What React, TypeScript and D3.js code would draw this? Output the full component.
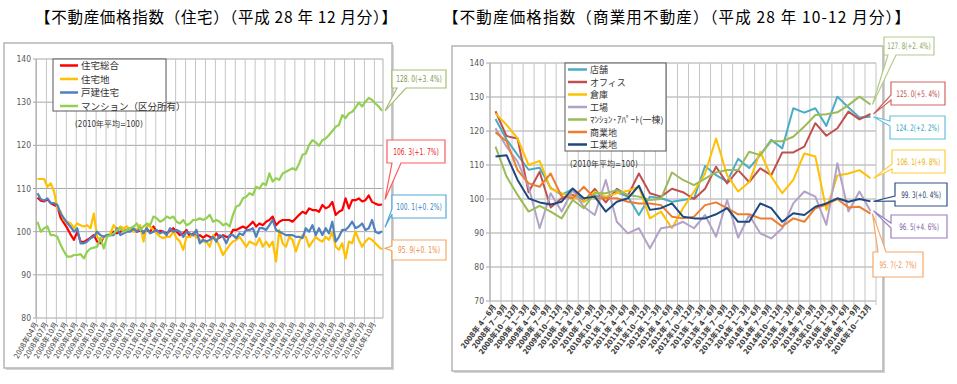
import React from "react";
import * as d3 from "d3";

// 住宅（月次 2008年04月〜2016年12月）
const monthTicks = [
  "2008年04月", "2008年07月", "2008年10月",
  "2009年01月", "2009年04月", "2009年07月", "2009年10月",
  "2010年01月", "2010年04月", "2010年07月", "2010年10月",
  "2011年01月", "2011年04月", "2011年07月", "2011年10月",
  "2012年01月", "2012年04月", "2012年07月", "2012年10月",
  "2013年01月", "2013年04月", "2013年07月", "2013年10月",
  "2014年01月", "2014年04月", "2014年07月", "2014年10月",
  "2015年01月", "2015年04月", "2015年07月", "2015年10月",
  "2016年01月", "2016年04月", "2016年07月", "2016年10月",
];

const housingTotal = [
  107.9, 107.2, 107.0, 107.5, 106.6, 106.2, 105.8, 103.2, 102.0, 100.8,
  99.3, 98.1, 100.0, 97.7, 97.6, 98.1, 98.6, 99.2, 97.7, 97.3,
  98.8, 99.2, 99.2, 100.0, 99.6, 100.0, 100.2, 100.4, 100.8, 100.4,
  100.0, 100.2, 100.0, 100.4, 100.0, 101.2, 100.0, 100.2, 100.0, 99.6,
  100.2, 100.8, 100.0, 99.2, 99.6, 100.4, 98.8, 99.6, 98.8, 99.2,
  98.6, 99.2, 98.8, 98.5, 99.6, 98.6, 99.2, 98.8, 98.8, 100.4,
  100.4, 100.8, 101.2, 100.8, 101.5, 102.3, 101.2, 101.9, 101.5, 102.3,
  102.7, 103.5, 101.5, 102.3, 102.7, 102.7, 102.7, 102.3, 103.1, 103.9,
  104.6, 104.2, 105.4, 105.0, 105.0, 104.6, 106.2, 105.4, 105.8, 106.9,
  103.9, 104.6, 105.0, 107.7, 105.4, 107.3, 107.3, 107.7, 107.0, 107.3,
  108.4, 106.9, 106.5, 106.2, 106.3,
];

const housingLand = [
  112.2, 112.2, 112.2, 110.4, 111.2, 109.3, 105.4, 104.6, 102.7, 102.3,
  101.9, 100.8, 101.9, 101.5, 101.2, 101.5, 100.8, 104.2, 98.8, 98.1,
  98.8, 99.2, 99.6, 101.5, 100.4, 101.2, 100.8, 101.2, 100.4, 100.0,
  100.4, 101.5, 97.7, 101.5, 101.2, 100.4, 99.6, 98.8, 98.5, 98.8,
  98.8, 100.0, 98.5, 97.7, 95.8, 98.8, 98.8, 99.2, 98.8, 98.1,
  97.7, 97.7, 96.5, 99.2, 98.1, 96.5, 94.6, 95.8, 96.9, 97.7,
  98.1, 98.8, 97.7, 96.5, 97.7, 97.3, 96.9, 98.5, 96.5, 97.7,
  96.5, 97.7, 93.1, 100.4, 97.3, 96.5, 98.8, 98.1, 95.4, 97.7,
  99.2, 98.8, 96.5, 97.7, 98.8, 98.1, 97.7, 98.8, 98.1, 100.0,
  96.5, 95.8, 97.3, 93.8, 97.7, 97.3, 100.0, 98.1, 96.5, 97.7,
  98.5, 98.1, 97.3, 96.5, 95.9,
];

const detachedHouse = [
  108.9, 107.5, 107.2, 107.7, 106.6, 106.6, 106.2, 104.2, 103.1, 102.0,
  101.1, 100.0, 100.8, 97.3, 97.3, 97.7, 98.5, 98.8, 100.0, 99.2,
  98.8, 99.2, 99.2, 99.2, 100.8, 99.2, 99.6, 100.0, 100.0, 100.8,
  100.0, 100.8, 99.6, 100.8, 99.6, 100.0, 100.4, 99.6, 100.0, 99.2,
  100.8, 100.0, 100.4, 100.0, 98.8, 100.0, 99.6, 99.2, 100.4, 97.3,
  98.1, 97.7, 98.1, 98.8, 97.7, 99.2, 98.8, 97.3, 99.2, 99.2,
  98.5, 99.6, 99.2, 100.4, 100.4, 100.8, 98.8, 100.8, 100.8, 100.4,
  101.5, 102.7, 100.4, 100.0, 99.6, 99.2, 99.2, 99.2, 98.8, 98.8,
  98.5, 100.8, 100.0, 101.5, 99.2, 100.8, 99.2, 100.8, 99.6, 102.3,
  97.7, 98.8, 100.4, 100.4, 101.2, 102.3, 100.8, 101.2, 101.9, 100.4,
  100.8, 102.7, 100.0, 99.6, 100.1,
];

const condominium = [
  102.3, 100.0, 100.8, 101.2, 99.2, 99.2, 98.8, 96.9, 95.4, 94.2,
  94.2, 94.6, 94.6, 94.8, 93.8, 95.4, 96.1, 96.3, 96.5, 98.5,
  96.1, 98.8, 99.2, 99.6, 100.4, 100.8, 100.0, 100.4, 100.8, 101.2,
  101.9, 100.4, 101.2, 101.9, 101.5, 103.5, 103.1, 102.3, 102.7, 103.5,
  103.1, 103.5, 102.3, 101.9, 102.7, 101.5, 101.9, 102.7, 102.7, 103.1,
  102.7, 103.1, 103.9, 102.3, 102.7, 102.3, 101.5, 101.9, 101.2, 103.9,
  105.8, 106.2, 107.7, 108.1, 108.9, 108.5, 110.4, 110.0, 111.2, 110.8,
  113.5, 111.6, 112.4, 112.0, 113.5, 113.9, 114.3, 114.7, 114.3, 115.8,
  117.8, 118.1, 120.1, 121.2, 120.7, 119.9, 121.2, 121.6, 122.4, 123.3,
  124.3, 124.7, 127.0, 126.3, 127.4, 127.8, 128.7, 129.9, 129.0, 130.1,
  131.0, 130.5, 129.7, 129.0, 128.0,
];

// 商業用不動産（四半期 2008年4-6月〜2016年10-12月）
const quarterTicks = [
  "2008年 4－6月", "2008年 7－9月", "2008年10－12月",
  "2009年 1－3月", "2009年 4－6月", "2009年 7－9月", "2009年10－12月",
  "2010年 1－3月", "2010年 4－6月", "2010年 7－9月", "2010年10－12月",
  "2011年 1－3月", "2011年 4－6月", "2011年 7－9月", "2011年10－12月",
  "2012年 1－3月", "2012年 4－6月", "2012年 7－9月", "2012年10－12月",
  "2013年 1－3月", "2013年 4－6月", "2013年 7－9月", "2013年10－12月",
  "2014年 1－3月", "2014年 4－6月", "2014年 7－9月", "2014年10－12月",
  "2015年 1－3月", "2015年 4－6月", "2015年 7－9月", "2015年10－12月",
  "2016年 1－3月", "2016年 4－6月", "2016年 7－9月", "2016年10－12月",
];

const store = [123.5, 117.5, 113.0, 108.6, 109.2, 103.3, 101.2, 103.0, 99.2, 101.0, 100.3, 102.0, 100.7, 95.3, 100.7, 100.2, 99.2, 99.7, 100.2, 109.7, 107.0, 105.1, 111.8, 109.1, 112.9, 117.4, 114.9, 126.7, 125.4, 126.7, 121.5, 130.1, 126.9, 124.0, 124.2];
const office = [125.8, 118.5, 117.8, 102.0, 108.0, 97.5, 100.2, 101.2, 99.2, 103.0, 99.0, 103.0, 101.0, 107.5, 101.7, 100.7, 103.0, 102.0, 100.0, 103.0, 109.5, 104.6, 108.5, 105.0, 109.0, 107.0, 113.7, 113.7, 115.4, 122.3, 118.6, 120.8, 125.7, 123.4, 125.0];
const warehouse = [125.2, 121.8, 117.8, 110.0, 111.2, 103.0, 101.7, 100.7, 99.2, 102.2, 100.7, 101.7, 102.4, 103.6, 94.3, 96.3, 91.4, 97.3, 102.2, 107.5, 117.8, 107.0, 102.2, 105.0, 113.9, 106.6, 101.7, 105.6, 113.4, 112.5, 96.8, 106.9, 107.5, 108.5, 106.1];
const factory = [120.8, 115.4, 111.0, 103.6, 91.4, 101.7, 96.3, 102.6, 97.7, 95.3, 105.6, 93.3, 89.9, 91.4, 85.5, 91.4, 91.9, 93.3, 91.4, 95.3, 88.9, 99.7, 88.6, 95.3, 89.9, 88.4, 91.4, 98.7, 102.2, 100.7, 92.4, 110.5, 96.3, 102.2, 96.5];
const apartment = [115.4, 106.6, 101.2, 96.3, 98.0, 96.3, 94.3, 99.7, 97.3, 101.7, 101.7, 102.6, 101.2, 100.7, 99.7, 100.0, 107.8, 105.6, 104.1, 106.0, 107.8, 108.5, 108.5, 113.9, 112.9, 117.0, 117.0, 118.3, 121.3, 124.7, 124.9, 125.5, 127.6, 130.1, 127.8];
const commercialLand = [119.6, 117.0, 108.5, 104.6, 103.6, 107.5, 100.7, 100.2, 103.6, 100.2, 100.2, 100.2, 99.2, 98.7, 98.7, 98.2, 94.8, 94.3, 94.8, 98.2, 99.0, 97.3, 95.5, 95.5, 94.3, 94.3, 91.9, 94.3, 93.3, 97.3, 98.4, 100.0, 97.5, 97.7, 95.7];
const industrialLand = [112.5, 112.9, 105.6, 100.2, 99.0, 98.4, 99.2, 103.1, 100.2, 100.7, 96.3, 99.2, 100.2, 103.9, 96.8, 97.3, 98.7, 94.8, 94.3, 94.3, 95.5, 97.3, 93.3, 93.3, 98.7, 97.3, 93.3, 95.8, 95.3, 97.7, 98.7, 100.2, 99.2, 100.0, 99.3];

const NUM = "'Liberation Sans Narrow','DejaVu Sans Condensed','Liberation Sans','Noto Sans CJK JP',sans-serif";
const JP = "'Noto Sans CJK JP',sans-serif";

const leftSeries = [
  { name: "住宅総合", values: housingTotal, color: "#ff0000", label: "106. 3(+1. 7%)", text: "#e8262b", border: "#ff5a5a" },
  { name: "住宅地", values: housingLand, color: "#ffc000", label: "95. 9(+0. 1%)", text: "#f08a3c", border: "#f7a863" },
  { name: "戸建住宅", values: detachedHouse, color: "#4f81bd", label: "100. 1(+0. 2%)", text: "#3d86c6", border: "#55a7dc" },
  { name: "マンション（区分所有）", values: condominium, color: "#92d050", label: "128. 0(+3. 4%)", text: "#80994f", border: "#a5bd73" },
];

const rightSeries = [
  { name: "店舗", values: store, color: "#4bacc6", label: "124. 2(+2. 2%)", text: "#35a6c6", border: "#67c0da" },
  { name: "オフィス", values: office, color: "#c0504d", label: "125. 0(+5. 4%)", text: "#c0504d", border: "#cf6664" },
  { name: "倉庫", values: warehouse, color: "#ffc000", label: "106. 1(+9. 8%)", text: "#eab000", border: "#ffcd3a" },
  { name: "工場", values: factory, color: "#b3a2c7", label: "96. 5(+4. 6%)", text: "#8064a2", border: "#9b7fc0" },
  { name: "ﾏﾝｼｮﾝ･ｱﾊﾟｰﾄ(一棟)", values: apartment, color: "#9bbb59", label: "127. 8(+2. 4%)", text: "#8aa95a", border: "#b3cc89" },
  { name: "商業地", values: commercialLand, color: "#ed7d31", label: "95. 7(-2. 7%)", text: "#f0924a", border: "#f6a86c" },
  { name: "工業地", values: industrialLand, color: "#1f497d", label: "99. 3(+0. 4%)", text: "#1f3d6b", border: "#2e5288" },
];

// callout path: box with a wedge pointing at (tx, ty)
function bubble(x: number, y: number, w: number, h: number, side: string, b0: number, b1: number, tx: number, ty: number) {
  if (side === "bottom")
    return `M${x},${y}H${x + w}V${y + h}H${b1}L${tx},${ty}L${b0},${y + h}H${x}Z`;
  if (side === "top")
    return `M${x},${y}H${b0}L${tx},${ty}L${b1},${y}H${x + w}V${y + h}H${x}Z`;
  return `M${x},${y}H${x + w}V${y + h}H${x}V${b1}L${tx},${ty}L${x},${b0}Z`;
}

function Frame({ x0, y0, x1, y1 }: { x0: number; y0: number; x1: number; y1: number }) {
  return (
    <g>
      <rect x={x0 + 2} y={y0 + 2} width={x1 - x0} height={y1 - y0} fill="#d4d4d4" />
      <rect x={x0} y={y0} width={x1 - x0} height={y1 - y0} fill="#fff" stroke="#b5b5b5" strokeWidth={1.5} />
    </g>
  );
}

function Callout({ c, tx, ty, size }: { c: any; tx: number; ty: number; size: number }) {
  const [bx, by, bw, bh] = c.box;
  return (
    <g>
      <path d={bubble(bx, by, bw, bh, c.side, c.b[0], c.b[1], tx, ty)} fill="#fff" stroke={c.s.border} strokeWidth={1.2} />
      <text transform={`translate(${bx + bw / 2},${by + bh / 2 + 3.3}) scale(0.7,1)`} textAnchor="middle" fontSize={size} fill={c.s.text}
        fontFamily={NUM}>{c.s.label}</text>
    </g>
  );
}

function LeftChart() {
  const x = d3.scaleLinear().domain([0, housingTotal.length - 1]).range([37.5, 382]);
  const y = d3.scaleLinear().domain([80, 140]).range([318, 59]);
  const plotL = 36, plotR = 383;
  const line = d3.line<number>().x((d, i) => x(i)).y((d) => y(d));
  const yTicks = d3.range(80, 141, 10);
  const tickIdx = monthTicks.map((_, k) => k * 3);
  const lastX = x(housingTotal.length - 1);

  const callouts = [
    { s: leftSeries[3], box: [392, 70, 54, 18], side: "bottom", b: [397, 406], off: [3, 0] },
    { s: leftSeries[0], box: [387, 140, 58, 23], side: "bottom", b: [392, 401], off: [3, -5] },
    { s: leftSeries[2], box: [392, 195, 54, 23], side: "left", b: [209, 214], off: [3, -4] },
    { s: leftSeries[1], box: [392, 240, 54, 20], side: "left", b: [246, 251], off: [3, -1] },
  ];

  return (
    <g>
      <Frame x0={4} y0={43} x1={392} y1={368} />
      {yTicks.map((t) => (
        <g key={t}>
          <line x1={plotL - 3} x2={plotR} y1={y(t)} y2={y(t)} stroke="#a6a6a6" strokeWidth={1} />
          <text x={31} y={y(t) + 3} textAnchor="end" fontSize={8.5} fill="#595959" fontFamily={NUM}>{t}</text>
        </g>
      ))}
      {tickIdx.map((i) => (
        <line key={i} x1={x(i) - 1} x2={x(i) - 1} y1={59} y2={323} stroke="#c4c4c4" strokeWidth={1} />
      ))}
      <line x1={plotR} x2={plotR} y1={59} y2={318} stroke="#b0b0b0" />
      <line x1={plotL} x2={plotL} y1={59} y2={318} stroke="#a6a6a6" />
      {monthTicks.map((lab, k) => (
        <text key={lab} transform={`translate(${x(k * 3) + 1},${324}) rotate(-60)`} textAnchor="end" fontSize={7.5} fill="#404040" fontFamily={NUM}>{lab}</text>
      ))}
      {leftSeries.map((s) => (
        <path key={s.name} d={line(s.values) || ""} fill="none" stroke={s.color} strokeWidth={2.2} strokeLinejoin="round" />
      ))}
      <rect x={53} y={59} width={113} height={52} fill="#fff" stroke="#595959" strokeWidth={1} />
      {leftSeries.map((s, k) => (
        <g key={s.name}>
          <line x1={60} x2={78} y1={65.5 + k * 13.5} y2={65.5 + k * 13.5} stroke={s.color} strokeWidth={2.5} />
          <text x={81} y={69 + k * 13.5} fontSize={9.5} fill="#333" fontFamily={JP}>{s.name}</text>
        </g>
      ))}
      <text x={75} y={127} fontSize={8} fill="#333" fontFamily={NUM}>(2010年平均=100)</text>
      {callouts.map((c) => {
        const v = c.s.values[c.s.values.length - 1];
        return <Callout key={c.s.name} c={c} tx={lastX + c.off[0]} ty={y(v) + c.off[1]} size={9.5} />;
      })}
    </g>
  );
}

function RightChart() {
  const idx = d3.range(store.length);
  const xb = d3.scaleBand<number>().domain(idx).range([490, 876]);
  const cx = (i: number) => (xb(i) as number) + xb.bandwidth() / 2;
  const y = d3.scaleLinear().domain([70, 140]).range([301, 63]);
  const line = d3.line<number>().x((d, i) => cx(i)).y((d) => y(d));
  const yTicks = d3.range(70, 141, 10);
  const lastX = cx(store.length - 1);

  const callouts = [
    { s: rightSeries[4], box: [884, 37, 50, 18], side: "bottom", b: [888, 896], off: [2, 0] },
    { s: rightSeries[1], box: [891, 82, 54, 23], side: "left", b: [95, 100], off: [3, 0] },
    { s: rightSeries[0], box: [890, 116, 55, 23], side: "left", b: [121, 126], off: [3, 0] },
    { s: rightSeries[2], box: [892, 150, 53, 23], side: "left", b: [164, 169], off: [3, 0] },
    { s: rightSeries[6], box: [895, 183, 52, 23], side: "left", b: [196, 201], off: [3, 0] },
    { s: rightSeries[3], box: [891, 215, 56, 23], side: "left", b: [223, 228], off: [3, 0] },
    { s: rightSeries[5], box: [873, 252, 50, 25], side: "top", b: [878, 886], off: [2, 0] },
  ];

  return (
    <g>
      <Frame x0={452} y0={46} x1={883} y1={371} />
      {yTicks.map((t) => (
        <g key={t}>
          <line x1={486} x2={876} y1={y(t)} y2={y(t)} stroke="#a6a6a6" strokeWidth={1} />
          <text x={484} y={y(t) + 3} textAnchor="end" fontSize={8.5} fill="#595959" fontFamily={NUM}>{t}</text>
        </g>
      ))}
      {d3.range(store.length + 1).map((k) => {
        const gx = 490 + k * xb.step();
        return <line key={k} x1={gx} x2={gx} y1={63} y2={305} stroke="#c4c4c4" strokeWidth={1} />;
      })}
      <line x1={490} x2={490} y1={63} y2={301} stroke="#a6a6a6" />
      {quarterTicks.map((lab, i) => (
        <text key={lab} transform={`translate(${cx(i) + 1},${307}) rotate(-53)`} textAnchor="end" fontSize={7.5} fontWeight="bold" fill="#404040" fontFamily={NUM}>{lab}</text>
      ))}
      {rightSeries.map((s) => (
        <path key={s.name} d={line(s.values) || ""} fill="none" stroke={s.color} strokeWidth={2} strokeLinejoin="round" />
      ))}
      <rect x={565} y={63} width={101} height={88} fill="#fff" stroke="#595959" strokeWidth={1} />
      {rightSeries.map((s, k) => (
        <g key={s.name}>
          <line x1={568} x2={587} y1={69.5 + k * 12.5} y2={69.5 + k * 12.5} stroke={s.color} strokeWidth={2.5} />
          <text x={590} y={73 + k * 12.5} fontSize={9} fill="#333" fontFamily={JP}>{s.name}</text>
        </g>
      ))}
      <text x={570} y={167} fontSize={8} fill="#333" fontFamily={NUM}>(2010年平均=100)</text>
      {callouts.map((c) => {
        const v = c.s.values[c.s.values.length - 1];
        return <Callout key={c.s.name} c={c} tx={lastX + c.off[0]} ty={y(v) + c.off[1]} size={9} />;
      })}
    </g>
  );
}

export default function App() {
  return (
    <div style={{ position: "fixed", left: 0, top: 0 }}>
      <svg width={957} height={384} style={{ display: "block", background: "#fff" }}>
        <text x={35} y={23} fontSize={15.5} fill="#000" fontFamily={JP} fontWeight={400}
          textLength={362} lengthAdjust="spacing">
          【不動産価格指数（住宅）（平成 28 年 12 月分）】
        </text>
        <text x={443} y={23} fontSize={15.5} fill="#000" fontFamily={JP} fontWeight={400}
          textLength={467} lengthAdjust="spacing">
          【不動産価格指数（商業用不動産）（平成 28 年 10-12 月分）】
        </text>
        <LeftChart />
        <RightChart />
      </svg>
    </div>
  );
}
